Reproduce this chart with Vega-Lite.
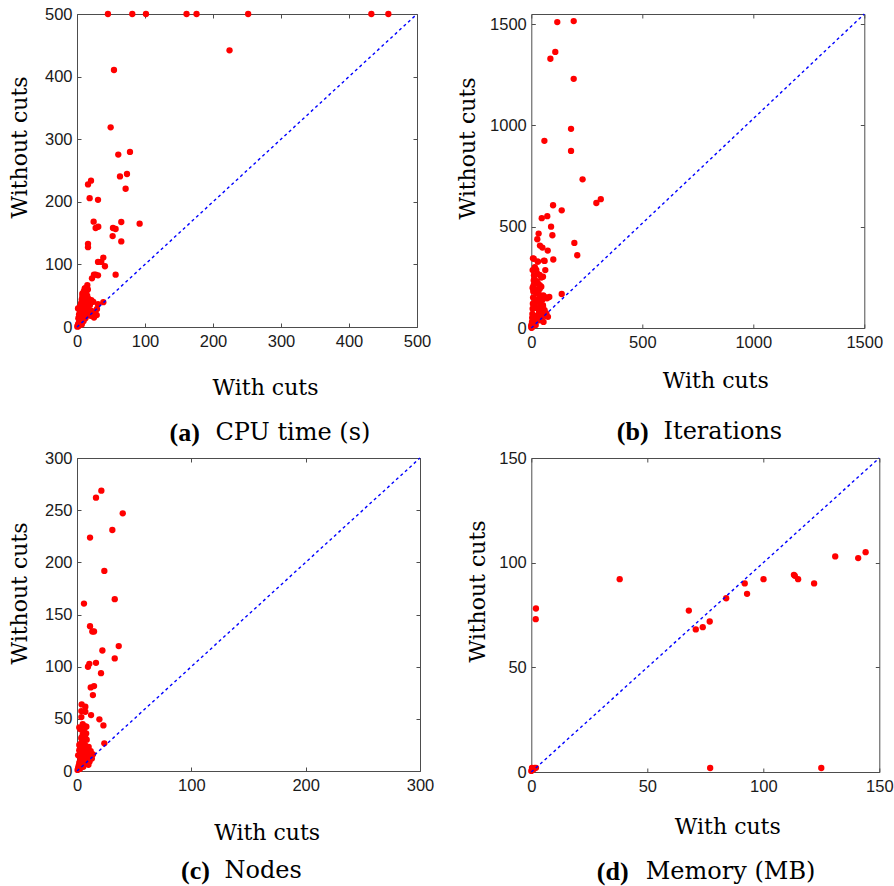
{
  "$schema": "https://vega.github.io/schema/vega-lite/v6.json",
  "padding": {"left": 7, "top": 5, "right": 5, "bottom": 5},
  "background": "white",
  "datasets": {
    "cpu": [
      {"x":45.5,"y":500},{"x":81.3,"y":500},{"x":101.4,"y":500},{"x":161.1,"y":500},{"x":175.8,"y":500},{"x":251.7,"y":500},{"x":432.9,"y":500},{"x":457.9,"y":500},
      {"x":224.3,"y":442},{"x":54.4,"y":410.5},{"x":49.5,"y":318.9},{"x":60.7,"y":275.5},{"x":77.9,"y":279.7},{"x":73.5,"y":244.4},{"x":63.2,"y":240.6},{"x":71.5,"y":220.8},
      {"x":16.2,"y":227.8},{"x":20.6,"y":233.7},{"x":18.6,"y":205.8},{"x":30.9,"y":203.1},{"x":24.5,"y":168.3},{"x":27.4,"y":158.1},{"x":31.3,"y":160.2},{"x":92.1,"y":165.1},
      {"x":65.1,"y":167.7},{"x":52.9,"y":158.1},{"x":56.8,"y":156.5},{"x":52.4,"y":145.2},{"x":65.1,"y":136.7},{"x":16.2,"y":132.9},{"x":16.2,"y":127.5},{"x":38.7,"y":110.9},
      {"x":30.9,"y":104},{"x":35.7,"y":104},{"x":41.1,"y":97},{"x":56.8,"y":83.6},{"x":22,"y":77.7},{"x":24.9,"y":83.6},{"x":27.4,"y":83.6},{"x":30.9,"y":82.5},
      {"x":15.2,"y":66.9},{"x":11.3,"y":61.1},{"x":7.8,"y":53.1},{"x":8.8,"y":45.6},{"x":21.1,"y":42.9},{"x":24,"y":40.2},{"x":30.9,"y":36.4},{"x":38.7,"y":39.7},
      {"x":29.4,"y":28.9},{"x":3.9,"y":31.6},{"x":1.5,"y":29.5},
      {"x":0.5,"y":0.5},{"x":1,"y":2},{"x":1.5,"y":4},{"x":2,"y":1},{"x":2.5,"y":6},{"x":3,"y":3},{"x":3.5,"y":9},{"x":4,"y":5},{"x":4.5,"y":12},{"x":5,"y":7},
      {"x":5.5,"y":15},{"x":6,"y":10},{"x":6.5,"y":20},{"x":7,"y":4},{"x":7.5,"y":18},{"x":8,"y":24},{"x":8.5,"y":13},{"x":9,"y":28},{"x":9.5,"y":9},{"x":10,"y":32},
      {"x":10.5,"y":17},{"x":11,"y":22},{"x":12,"y":36},{"x":12.5,"y":14},{"x":13,"y":26},{"x":14,"y":40},{"x":15,"y":19},{"x":16,"y":30},{"x":17,"y":45},{"x":18,"y":24},
      {"x":19,"y":35},{"x":20,"y":18},{"x":21,"y":26},{"x":23,"y":20},{"x":25,"y":15},{"x":27,"y":22},{"x":29,"y":19},{"x":2,"y":14},{"x":3,"y":20},{"x":4,"y":27},
      {"x":5,"y":33},{"x":6,"y":38},{"x":7,"y":44},{"x":8,"y":49},{"x":9,"y":52},{"x":10,"y":57},{"x":11,"y":47},{"x":13,"y":54},{"x":15,"y":50},{"x":16,"y":60},
      {"x":12,"y":62},{"x":14,"y":58}
    ],
    "iter": [
      {"x":117,"y":1510},{"x":191,"y":1515},{"x":108,"y":1363},{"x":86,"y":1329},{"x":191,"y":1230},{"x":179,"y":983},{"x":59,"y":924},{"x":179,"y":874},
      {"x":231,"y":734},{"x":313,"y":636},{"x":293,"y":617},{"x":98,"y":606},{"x":137,"y":581},{"x":47,"y":542},{"x":72,"y":552},{"x":89,"y":500},
      {"x":95,"y":458},{"x":33,"y":466},{"x":27,"y":438},{"x":39,"y":407},{"x":50,"y":397},{"x":74,"y":382},{"x":194,"y":420},{"x":207,"y":359},
      {"x":99,"y":338},{"x":11,"y":342},{"x":29,"y":328},{"x":57,"y":333},{"x":63,"y":286},{"x":6,"y":286},{"x":27,"y":268},{"x":45,"y":249},
      {"x":11,"y":235},{"x":38,"y":212},{"x":6,"y":199},{"x":21,"y":191},{"x":38,"y":194},{"x":54,"y":161},{"x":81,"y":153},{"x":71,"y":147},
      {"x":137,"y":168},{"x":53,"y":109},{"x":12,"y":112},{"x":30,"y":140},{"x":60,"y":63},{"x":45,"y":46},{"x":15,"y":30},
      {"x":1,"y":5},{"x":2,"y":15},{"x":3,"y":30},{"x":4,"y":50},{"x":5,"y":70},{"x":6,"y":95},{"x":7,"y":120},{"x":8,"y":150},{"x":9,"y":180},{"x":10,"y":210},
      {"x":12,"y":260},{"x":14,"y":240},{"x":15,"y":121},{"x":16,"y":300},{"x":18,"y":140},{"x":20,"y":100},{"x":22,"y":170},{"x":24,"y":60},{"x":25,"y":230},{"x":28,"y":130},
      {"x":30,"y":96},{"x":30,"y":220},{"x":32,"y":185},{"x":35,"y":80},{"x":38,"y":162},{"x":40,"y":120},{"x":42,"y":45},{"x":45,"y":71},{"x":45,"y":204},{"x":48,"y":100},
      {"x":50,"y":140},{"x":52,"y":113},{"x":55,"y":30},{"x":60,"y":88},{"x":60,"y":154},{"x":65,"y":60},{"x":68,"y":71},{"x":75,"y":55},{"x":3,"y":10},{"x":5,"y":25},
      {"x":8,"y":40},{"x":10,"y":20},{"x":12,"y":35},{"x":15,"y":50},{"x":18,"y":28},{"x":20,"y":15},{"x":25,"y":40},{"x":2,"y":3},{"x":6,"y":8},{"x":1,"y":1},
      {"x":0,"y":13},{"x":7.5,"y":60},{"x":22.5,"y":46},{"x":37.6,"y":38},{"x":15,"y":21},{"x":7.5,"y":195},{"x":15,"y":237},{"x":22.5,"y":287},{"x":30,"y":328},{"x":37.6,"y":262},
      {"x":52.6,"y":253},{"x":7.5,"y":344},{"x":60,"y":331}
    ],
    "nodes": [
      {"x":21.3,"y":268.7},{"x":16.6,"y":262},{"x":40,"y":247},{"x":30.9,"y":231},{"x":11.4,"y":223.7},{"x":23.9,"y":191.8},{"x":33,"y":164.7},{"x":6.1,"y":160.5},
      {"x":11.4,"y":138.8},{"x":13.4,"y":133.7},{"x":14.9,"y":133.7},{"x":36.5,"y":119.7},{"x":22.2,"y":115.5},{"x":33,"y":107.9},{"x":16.6,"y":103.7},{"x":9.6,"y":99.9},
      {"x":10.8,"y":102.7},{"x":21,"y":93.8},{"x":12,"y":80.1},{"x":14.9,"y":81.4},{"x":13.9,"y":72.8},{"x":4.1,"y":63.8},{"x":7.3,"y":61.6},{"x":3.8,"y":57.4},
      {"x":7.3,"y":56.8},{"x":3.8,"y":51.7},{"x":12.3,"y":53.6},{"x":19.6,"y":49.5},{"x":23.1,"y":43.7},{"x":2,"y":41.8},{"x":7.3,"y":42.8},{"x":8.2,"y":42.4},
      {"x":23.9,"y":26.5},{"x":10.2,"y":23},{"x":3.8,"y":31.9},{"x":5.3,"y":28.7},{"x":4.4,"y":23.9},
      {"x":0.5,"y":1},{"x":1,"y":3},{"x":1.5,"y":5},{"x":2,"y":8},{"x":2.5,"y":2},{"x":3,"y":12},{"x":3.5,"y":6},{"x":4,"y":15},{"x":4.5,"y":10},{"x":5,"y":18},
      {"x":5.5,"y":4},{"x":6,"y":21},{"x":6.5,"y":13},{"x":7,"y":25},{"x":7.5,"y":8},{"x":8,"y":17},{"x":8.5,"y":30},{"x":9,"y":11},{"x":9.5,"y":22},{"x":10,"y":6},
      {"x":10.5,"y":14},{"x":11,"y":9},{"x":12,"y":19},{"x":13,"y":12},{"x":14,"y":16},{"x":2,"y":20},{"x":3,"y":26},{"x":4,"y":31},{"x":5,"y":35},{"x":6,"y":38},
      {"x":7,"y":33},{"x":8,"y":36},{"x":3,"y":40},{"x":5,"y":45},{"x":6,"y":30},{"x":1,"y":15},{"x":2,"y":25},{"x":4,"y":7}
    ],
    "mem": [
      {"x":144.1,"y":105},{"x":140.9,"y":102.2},{"x":131,"y":103},{"x":113.2,"y":94.2},{"x":113.6,"y":93.7},{"x":115,"y":92.1},{"x":100.1,"y":92.1},{"x":121.9,"y":90.1},
      {"x":92,"y":90.1},{"x":93,"y":85.1},{"x":84,"y":83},{"x":67.9,"y":77.1},{"x":76.9,"y":71.9},{"x":73.9,"y":69.2},{"x":70.9,"y":68.1},{"x":38.1,"y":92.1},
      {"x":2,"y":78.1},{"x":1.9,"y":73},{"x":77.1,"y":1.9},{"x":125,"y":1.9},{"x":0,"y":0.5},{"x":0.3,"y":2},{"x":1.4,"y":2},{"x":2,"y":2},{"x":1,"y":1.3},{"x":0.5,"y":1.8}
    ],
    "dA": [{"x":0,"y":0,"x2":500,"y2":500}],
    "dB": [{"x":0,"y":0,"x2":1500,"y2":1550}],
    "dC": [{"x":0,"y":0,"x2":300,"y2":300}],
    "dD": [{"x":0,"y":0,"x2":150,"y2":150}]
  },
  "columns": 2,
  "align": "each",
  "bounds": "flush",
  "spacing": {"row": 130, "column": 111.3},
  "concat": [
    {
      "width": 340, "height": 313,
      "layer": [
        {"data": {"name": "cpu"}, "mark": {"type": "circle", "size": 40, "color": "#ff0000", "opacity": 1},
         "encoding": {
           "x": {"field": "x", "type": "quantitative", "scale": {"domain": [0, 500], "nice": false}, "axis": {"orient": "bottom", "values": [0,100,200,300,400,500], "title": "With cuts", "titleX": 188, "titleY": 60}},
           "y": {"field": "y", "type": "quantitative", "scale": {"domain": [0, 500], "nice": false}, "axis": {"orient": "left", "values": [0,100,200,300,400,500], "title": "Without cuts", "titleX": -57.2, "titleY": 133}}
         }},
        {"data": {"name": "dA"}, "mark": {"type": "rule", "color": "#0000ff", "strokeDash": [3, 3], "strokeWidth": 1.4},
         "encoding": {
           "x": {"field": "x", "type": "quantitative", "axis": {"orient": "top", "values": [0,100,200,300,400,500], "labels": false, "title": "CPU time (s)", "titleX": 138, "titleY": 418, "titleAlign": "left", "titleFontSize": 24}},
           "x2": {"field": "x2"},
           "y": {"field": "y", "type": "quantitative", "axis": {"orient": "right", "values": [0,100,200,300,400,500], "labels": false, "title": "(a)", "titleAngle": 0, "titleX": -248, "titleY": 418, "titleAlign": "left", "titleFont": "Liberation Serif", "titleFontWeight": "bold", "titleFontSize": 26}},
           "y2": {"field": "y2"}
         }}
      ],
      "resolve": {"axis": {"x": "independent", "y": "independent"}}
    },
    {
      "width": 333, "height": 314,
      "layer": [
        {"data": {"name": "iter"}, "mark": {"type": "circle", "size": 40, "color": "#ff0000", "opacity": 1},
         "encoding": {
           "x": {"field": "x", "type": "quantitative", "scale": {"domain": [0, 1500], "nice": false}, "axis": {"orient": "bottom", "values": [0,500,1000,1500], "format": "d", "title": "With cuts", "titleX": 184, "titleY": 52.3}},
           "y": {"field": "y", "type": "quantitative", "scale": {"domain": [0, 1550], "nice": false}, "axis": {"orient": "left", "values": [0,500,1000,1500], "format": "d", "title": "Without cuts", "titleX": -63.5, "titleY": 134}}
         }},
        {"data": {"name": "dB"}, "mark": {"type": "rule", "color": "#0000ff", "strokeDash": [3, 3], "strokeWidth": 1.4},
         "encoding": {
           "x": {"field": "x", "type": "quantitative", "axis": {"orient": "top", "values": [0,500,1000,1500], "labels": false, "title": "Iterations", "titleX": 131.7, "titleY": 417, "titleAlign": "left", "titleFontSize": 24}},
           "x2": {"field": "x2"},
           "y": {"field": "y", "type": "quantitative", "axis": {"orient": "right", "values": [0,500,1000,1500], "labels": false, "title": "(b)", "titleAngle": 0, "titleX": -248, "titleY": 417, "titleAlign": "left", "titleFont": "Liberation Serif", "titleFontWeight": "bold", "titleFontSize": 26}},
           "y2": {"field": "y2"}
         }}
      ],
      "resolve": {"axis": {"x": "independent", "y": "independent"}}
    },
    {
      "width": 343, "height": 313,
      "layer": [
        {"data": {"name": "nodes"}, "mark": {"type": "circle", "size": 40, "color": "#ff0000", "opacity": 1},
         "encoding": {
           "x": {"field": "x", "type": "quantitative", "scale": {"domain": [0, 300], "nice": false}, "axis": {"orient": "bottom", "values": [0,100,200,300], "title": "With cuts", "titleX": 189.6, "titleY": 61.7}},
           "y": {"field": "y", "type": "quantitative", "scale": {"domain": [0, 300], "nice": false}, "axis": {"orient": "left", "values": [0,50,100,150,200,250,300], "title": "Without cuts", "titleX": -57.7, "titleY": 135}}
         }},
        {"data": {"name": "dC"}, "mark": {"type": "rule", "color": "#0000ff", "strokeDash": [3, 3], "strokeWidth": 1.4},
         "encoding": {
           "x": {"field": "x", "type": "quantitative", "axis": {"orient": "top", "values": [0,100,200,300], "labels": false, "title": "Nodes", "titleX": 147, "titleY": 412.5, "titleAlign": "left", "titleFontSize": 24}},
           "x2": {"field": "x2"},
           "y": {"field": "y", "type": "quantitative", "axis": {"orient": "right", "values": [0,50,100,150,200,250,300], "labels": false, "title": "(c)", "titleAngle": 0, "titleX": -239.4, "titleY": 412.5, "titleAlign": "left", "titleFont": "Liberation Serif", "titleFontWeight": "bold", "titleFontSize": 26}},
           "y2": {"field": "y2"}
         }}
      ],
      "resolve": {"axis": {"x": "independent", "y": "independent"}}
    },
    {
      "width": 348, "height": 314,
      "layer": [
        {"data": {"name": "mem"}, "mark": {"type": "circle", "size": 40, "color": "#ff0000", "opacity": 1},
         "encoding": {
           "x": {"field": "x", "type": "quantitative", "scale": {"domain": [0, 150], "nice": false}, "axis": {"orient": "bottom", "values": [0,50,100,150], "title": "With cuts", "titleX": 196, "titleY": 54}},
           "y": {"field": "y", "type": "quantitative", "scale": {"domain": [0, 150], "nice": false}, "axis": {"orient": "left", "values": [0,50,100,150], "title": "Without cuts", "titleX": -54, "titleY": 133}}
         }},
        {"data": {"name": "dD"}, "mark": {"type": "rule", "color": "#0000ff", "strokeDash": [3, 3], "strokeWidth": 1.4},
         "encoding": {
           "x": {"field": "x", "type": "quantitative", "axis": {"orient": "top", "values": [0,50,100,150], "labels": false, "title": "Memory (MB)", "titleX": 114, "titleY": 413.5, "titleAlign": "left", "titleFontSize": 24}},
           "x2": {"field": "x2"},
           "y": {"field": "y", "type": "quantitative", "axis": {"orient": "right", "values": [0,50,100,150], "labels": false, "title": "(d)", "titleAngle": 0, "titleX": -283, "titleY": 413.5, "titleAlign": "left", "titleFont": "Liberation Serif", "titleFontWeight": "bold", "titleFontSize": 26}},
           "y2": {"field": "y2"}
         }}
      ],
      "resolve": {"axis": {"x": "independent", "y": "independent"}}
    }
  ],
  "config": {
    "view": {"stroke": "#4d4d4d", "strokeWidth": 1},
    "axis": {
      "domain": false, "grid": false, "ticks": true, "tickSize": -4, "tickColor": "#4d4d4d", "tickWidth": 1,
      "labelFont": "Liberation Sans", "labelFontSize": 16.5, "labelColor": "#1a1a1a", "labelFlush": false, "labelOverlap": false,
      "titleFont": "DejaVu Serif", "titleFontSize": 22, "titleFontWeight": "normal", "titleColor": "#000000", "titleBaseline": "middle", "titleAlign": "center"
    },
    "axisX": {"labelPadding": 10},
    "axisY": {"labelPadding": 9}
  }
}
